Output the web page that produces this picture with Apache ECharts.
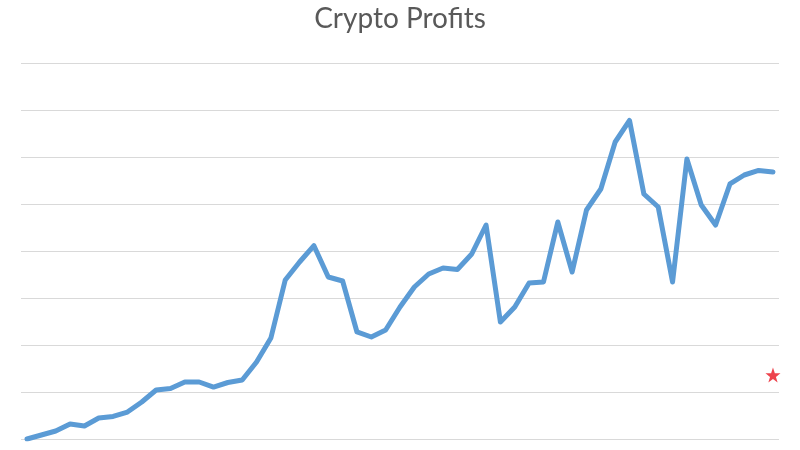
<!DOCTYPE html>
<html>
<head>
<meta charset="utf-8">
<script src="https://cdn.jsdelivr.net/npm/echarts@6/dist/echarts.min.js"></script>
<style>html,body{margin:0;padding:0;background:#fff}#c{width:800px;height:450px}</style>
</head>
<body>
<div id="c"></div>
<script>
const titleText = 'Crypto Profits';
const periods = Array.from({length: 53}, (_, i) => i + 1);
const profits = [0, 85, 170, 319, 277, 447, 479, 574, 787, 1043, 1074, 1213, 1213, 1106, 1202, 1255, 1638, 2149, 3383, 3766, 4113, 3447, 3362, 2277, 2170, 2319, 2809, 3234, 3511, 3638, 3606, 3936, 4553, 2489, 2809, 3319, 3340, 4617, 3553, 4872, 5319, 6319, 6777, 5213, 4936, 3340, 5957, 4979, 4553, 5426, 5617, 5713, 5681];
const markerPeriod = 53;
const markerValue = 1362;
const yTicks = [0, 1000, 2000, 3000, 4000, 5000, 6000, 7000, 8000];

const chart = echarts.init(document.getElementById('c'), null, {renderer: 'canvas'});
const starPath = 'path://M50,0 L61.8,35.1 L97.6,35.1 L68.7,56.8 L79.4,90.5 L50,69.4 L20.6,90.5 L31.3,56.8 L2.4,35.1 L38.2,35.1 Z';
chart.setOption({
  animation: false,
  backgroundColor: '#ffffff',
  title: {
    text: titleText,
    left: 'center',
    top: 0,
    textStyle: {fontFamily: 'Lato', fontSize: 28, fontWeight: 'normal', color: '#595959'}
  },
  grid: {left: 21, right: 21, top: 63, bottom: 11, containLabel: false},
  xAxis: {
    type: 'value',
    min: periods[0] - 0.42,
    max: periods[periods.length - 1] + 0.42,
    show: false
  },
  yAxis: {
    type: 'value',
    min: yTicks[0],
    max: yTicks[yTicks.length - 1],
    interval: yTicks[1] - yTicks[0],
    axisLine: {show: false},
    axisTick: {show: false},
    axisLabel: {show: false},
    splitLine: {lineStyle: {color: '#d9d9d9', width: 1}}
  },
  series: [
    {
      type: 'line',
      data: periods.map((p, i) => [p, profits[i]]),
      showSymbol: false,
      lineStyle: {color: '#5b9bd5', width: 5, join: 'round', cap: 'round'},
      itemStyle: {color: '#5b9bd5'},
      z: 2
    },
    {
      type: 'scatter',
      data: [[markerPeriod, markerValue]],
      symbol: starPath,
      symbolSize: 15,
      itemStyle: {color: '#e8141f'},
      z: 3
    }
  ]
});
</script>
</body>
</html>
